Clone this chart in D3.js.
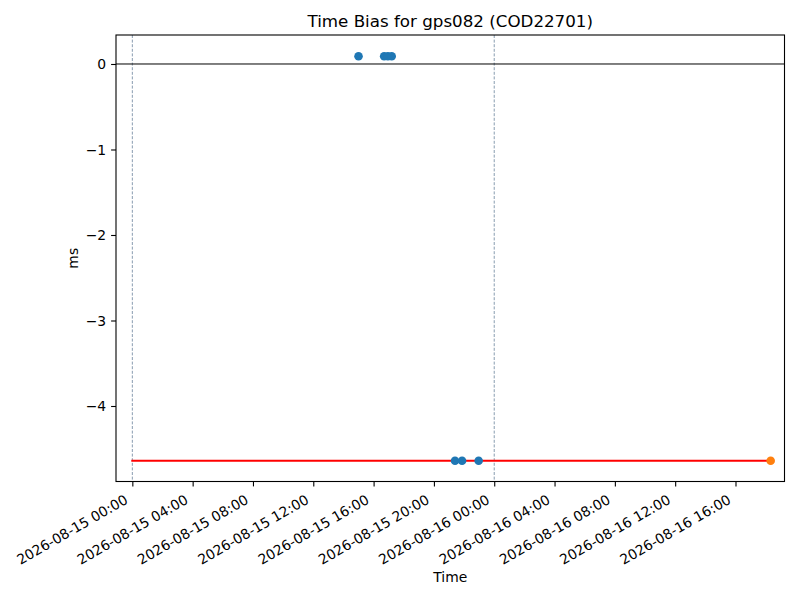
<!DOCTYPE html>
<html lang="en">
<head>
<meta charset="UTF-8">
<title>Time Bias for gps082</title>
<script src="https://d3js.org/d3.v7.min.js"></script>
<style>
    body { margin: 0; background: #fff; }
    svg text { font-family: "DejaVu Sans", sans-serif; }
    .tick text { font-size: 13.9px; fill: #000; }
</style>
</head>
<body>
<div id="chart"></div>
<script>
    // data
    const blueTimes = ["2026-08-15 15:00", "2026-08-15 16:42", "2026-08-15 16:57", "2026-08-15 17:12",
                       "2026-08-15 21:24", "2026-08-15 21:52", "2026-08-15 22:58"];
    const blueValues = [0.09, 0.09, 0.09, 0.09, -4.64, -4.64, -4.64];
    const orangeTimes = ["2026-08-16 18:20"];
    const orangeValues = [-4.64];
    const refTimes = ["2026-08-15 00:00", "2026-08-16 18:20"];
    const refValues = [-4.64, -4.64];
    const dayMarks = ["2026-08-15 00:00", "2026-08-16 00:00"];
    const yTicks = [0, -1, -2, -3, -4];
    const xLimits = ["2026-08-14 22:55", "2026-08-16 19:15"];
    const yLimits = [-4.883, 0.339];

    const W = 800, H = 600;
    const m = { left: 116, right: 784.5, top: 35, bottom: 481.5 };
    const parse = d3.timeParse("%Y-%m-%d %H:%M");

    const svg = d3.select("#chart").append("svg")
        .attr("width", W).attr("height", H);

    const x = d3.scaleTime()
        .domain(xLimits.map(parse))
        .range([m.left, m.right]);
    const y = d3.scaleLinear()
        .domain(yLimits)
        .range([m.bottom, m.top]);

    // vertical day markers
    svg.selectAll(".day").data(dayMarks).enter().append("line")
        .attr("x1", d => x(parse(d))).attr("x2", d => x(parse(d)))
        .attr("y1", m.top).attr("y2", m.bottom)
        .attr("stroke", "#55718e").attr("stroke-width", 0.7)
        .attr("stroke-dasharray", "3,1.6");

    // zero line
    svg.append("line")
        .attr("x1", m.left).attr("x2", m.right)
        .attr("y1", y(0)).attr("y2", y(0))
        .attr("stroke", "#000").attr("stroke-width", 1);

    // red reference line
    const ref = refTimes.map((t, i) => [parse(t), refValues[i]]);
    svg.append("path")
        .attr("d", d3.line().x(d => x(d[0])).y(d => y(d[1]))(ref))
        .attr("fill", "none").attr("stroke", "#ff0000")
        .attr("stroke-width", 2.1).attr("stroke-linecap", "square");

    // points
    svg.selectAll(".blue").data(blueTimes).enter().append("circle")
        .attr("cx", d => x(parse(d)))
        .attr("cy", (d, i) => y(blueValues[i]))
        .attr("r", 4.3).attr("fill", "#1f77b4");
    svg.selectAll(".orange").data(orangeTimes).enter().append("circle")
        .attr("cx", d => x(parse(d)))
        .attr("cy", (d, i) => y(orangeValues[i]))
        .attr("r", 4.3).attr("fill", "#ff7f0e");

    // axes
    const fmt = d3.timeFormat("%Y-%m-%d %H:%M");
    const xAxis = svg.append("g")
        .attr("transform", `translate(0,${m.bottom})`)
        .call(d3.axisBottom(x).ticks(d3.timeHour.every(4)).tickFormat(fmt)
            .tickSizeInner(4.9).tickSizeOuter(0).tickPadding(0));
    xAxis.attr("font-family", null);
    xAxis.select(".domain").remove();
    xAxis.selectAll(".tick line").attr("stroke", "#000").attr("stroke-width", 1.1);
    xAxis.selectAll(".tick text")
        .attr("text-anchor", "end")
        .attr("y", 0).attr("dy", 0)
        .attr("transform", "translate(-4,21) rotate(-30)");

    const yAxis = svg.append("g")
        .attr("transform", `translate(${m.left},0)`)
        .call(d3.axisLeft(y).tickValues(yTicks).tickFormat(d3.format("d"))
            .tickSizeInner(4.9).tickSizeOuter(0).tickPadding(4.9));
    yAxis.attr("font-family", null);
    yAxis.select(".domain").remove();
    yAxis.selectAll(".tick line").attr("stroke", "#000").attr("stroke-width", 1.1);
    yAxis.selectAll(".tick text").attr("dy", "0.35em")
        .text(d => d < 0 ? "\u2212" + Math.abs(d) : d);

    // frame
    svg.append("rect")
        .attr("x", m.left).attr("y", m.top)
        .attr("width", m.right - m.left).attr("height", m.bottom - m.top)
        .attr("fill", "none").attr("stroke", "#000").attr("stroke-width", 1.1);

    // titles
    svg.append("text")
        .attr("x", (m.left + m.right) / 2).attr("y", 27)
        .attr("text-anchor", "middle").attr("font-size", 16.7)
        .text("Time Bias for gps082 (COD22701)");
    svg.append("text")
        .attr("x", (m.left + m.right) / 2).attr("y", 582)
        .attr("text-anchor", "middle").attr("font-size", 13.9)
        .text("Time");
    svg.append("text")
        .attr("transform", `translate(78,${(m.top + m.bottom) / 2}) rotate(-90)`)
        .attr("text-anchor", "middle").attr("font-size", 13.9)
        .text("ms");
</script>
</body>
</html>
